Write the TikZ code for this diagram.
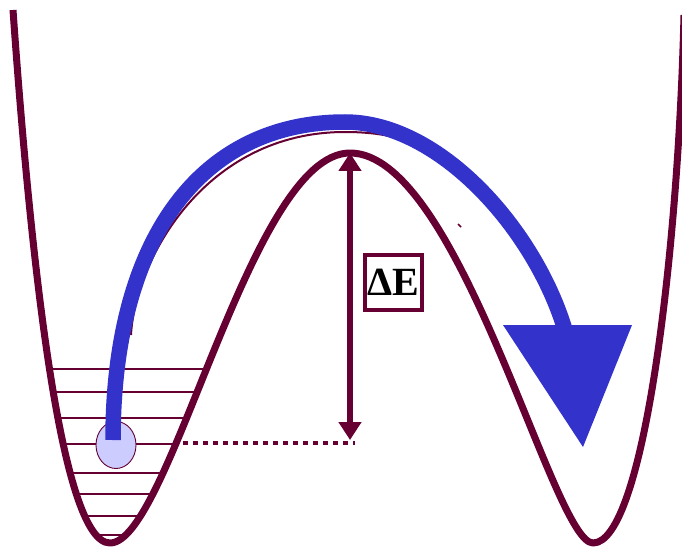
\documentclass[tikz,border=0pt]{standalone}
\usepackage{fontspec}
\setmainfont{Liberation Serif}
\usetikzlibrary{arrows.meta,shapes.geometric}
\definecolor{maroon}{HTML}{660033}
\definecolor{bluearc}{HTML}{3333CC}
\definecolor{lavender}{HTML}{CCCCFF}
\tikzset{
  potential/.style={draw=maroon, line width=7pt, line join=round},
  level/.style={draw=maroon, line width=1.6pt},
  dotline/.style={draw=maroon, line width=4.5pt, dash pattern=on 4.5pt off 5.5pt},
  barrier/.style={draw=maroon, line width=6pt, {Triangle[width=22pt,length=18pt]}-{Triangle[width=22pt,length=18pt]}},
  jump/.style={draw=bluearc, line width=15.5pt, line cap=butt},
  shadow/.style={draw=maroon, line width=2pt},
  ballstyle/.style={ellipse, draw=maroon, line width=0.9pt, fill=lavender, minimum width=40pt, minimum height=47pt, inner sep=0pt},
  labelbox/.style={draw=maroon, line width=4pt, fill=white, minimum width=57pt, minimum height=55pt, inner sep=0pt, font=\fontsize{40}{40}\selectfont\bfseries}
}
\begin{document}
\begin{tikzpicture}[x=1pt,y=-1pt]
\useasboundingbox (0,0) rectangle (682,548);
\clip (0,0) rectangle (682,548);
% energy levels
\foreach \yy/\xl/\xr in {369/50/205, 392/54/195, 418/59/185, 444/64/176, 473/70/160, 494/77/150, 516/86/139, 535/93/123}
  \draw[level] (\xl,\yy) -- (\xr,\yy);
% named points
\coordinate (peak) at (350,153);
\coordinate (base) at (350,440);
\coordinate (dotstart) at (183,443);
\coordinate (dotend) at (355,443);
% dotted level line
\draw[dotline] (dotstart) -- (dotend);
% potential curve
\draw[potential] (13,10) .. controls (30,250) and (60,543) .. (110,543)
  .. controls (170,543) and (250,153) .. (350,153)
  .. controls (460,153) and (553,543) .. (593,543)
  .. controls (643,543) and (678,260) .. (684,15);
% thin maroon line under the blue arc
\draw[shadow] (131,335) .. controls (135,260) and (205,132) .. (345,132)
  .. controls (380,132) and (405,138) .. (422,148);
% tiny mark
\draw[maroon, line width=1.5pt] (458,224) -- (461,227);
% ball
\node[ballstyle] (ball) at (116,445) {};
% blue jump arc
\coordinate (jumpstart) at (113,440);
\coordinate (jumptop) at (345,122);
\coordinate (jumpend) at (565,330);
\draw[jump] (jumpstart) .. controls (113,240) and (200,122) .. (jumptop)
  .. controls (440,122) and (535,230) .. (jumpend);
\fill[bluearc] (503,325) -- (632,325) -- (583,447) -- cycle;
% barrier height arrow
\draw[barrier] (base) -- (peak);
\node[labelbox] (dE) at (393.5,282.5) {ΔE};
\end{tikzpicture}
\end{document}
